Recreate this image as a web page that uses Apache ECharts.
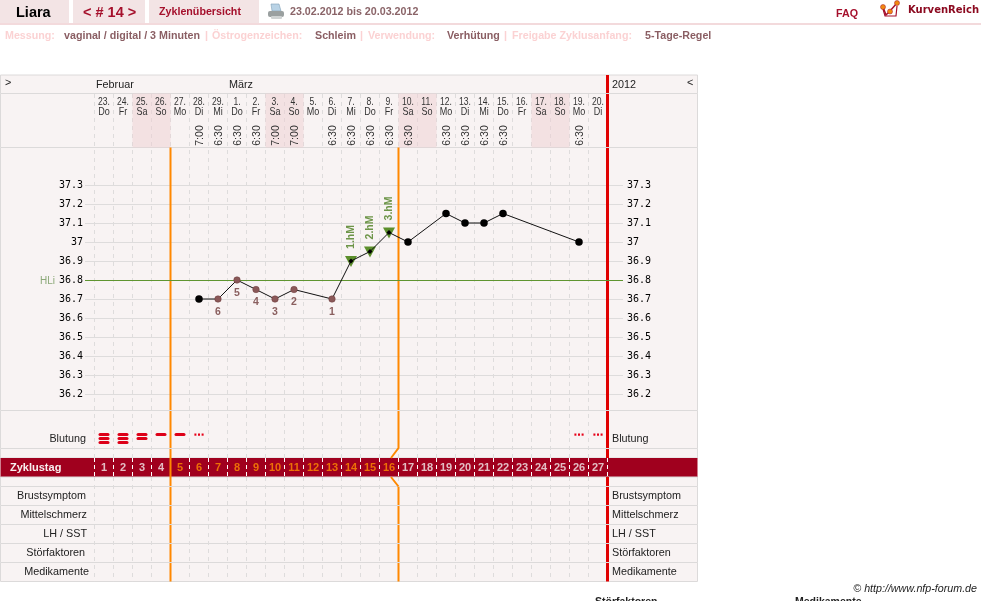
<!DOCTYPE html>
<html><head><meta charset="utf-8">
<style>html,body{margin:0;padding:0;background:#fff}#c{width:981px;height:601px}</style>
<script src="https://cdn.jsdelivr.net/npm/echarts@6/dist/echarts.min.js"></script>
</head><body><div id="c"></div>
<script>
// ---- data ----
const dayNumbers = ['23.','24.','25.','26.','27.','28.','29.','1.','2.','3.','4.','5.','6.','7.','8.','9.','10.','11.','12.','13.','14.','15.','16.','17.','18.','19.','20.'];
const weekDays = ['Do','Fr','Sa','So','Mo','Di','Mi','Do','Fr','Sa','So','Mo','Di','Mi','Do','Fr','Sa','So','Mo','Di','Mi','Do','Fr','Sa','So','Mo','Di'];
const wakeTimes = ['','','','','','7:00','6:30','6:30','6:30','7:00','7:00','','6:30','6:30','6:30','6:30','6:30','','6:30','6:30','6:30','6:30','','','','6:30',''];
const weekendShade = [0,0,1,1,0,0,0,0,0,1,1,0,0,0,0,0,1,1,0,0,0,0,0,1,1,0,0];
const cycleDays = [1,2,3,4,5,6,7,8,9,10,11,12,13,14,15,16,17,18,19,20,21,22,23,24,25,26,27];
const fertileFlag = [0,0,0,0,1,1,1,1,1,1,1,1,1,1,1,1,0,0,0,0,0,0,0,0,0,0,0];
const temperatures = [null,null,null,null,null,36.7,36.7,36.8,36.75,36.7,36.75,null,36.7,36.9,36.95,37.05,37.0,null,37.15,37.1,37.1,37.15,null,null,null,37.0,null];
const lowLabels = ['','','','','','','6','5','4','3','2','','1','','','','','','','','','','','','','',''];
const riseLabels = ['','','','','','','','','','','','','','1.hM','2.hM','3.hM','','','','','','','','','','',''];
const bleeding = [3,3,2,1,1,0.5,0,0,0,0,0,0,0,0,0,0,0,0,0,0,0,0,0,0,0,0.5,0.5];
const coverLine = 36.8;
const leftRowLabels = ['Blutung','Brustsymptom','Mittelschmerz','LH / SST','Störfaktoren','Medikamente'];
const rightRowLabels = ['Blutung','Brustsymptom','Mittelschmerz','LH / SST','Störfaktoren','Medikamente'];

// ---- layout ----
const rowEdges = [75,93.5,147.5,410.5,448.5,458,477,486.5,505.5,524.5,543.5,562.5,581.5];
const BAND = 5; const PL = 0.5, PW = 697, CL = 94.5, CW = 513;
const grids=[], xAxes=[], yAxes=[], series=[];
function addGrid(g,x,y){ grids.push(g); const i=grids.length-1;
  xAxes.push(Object.assign({gridIndex:i,show:false},x||{}));
  yAxes.push(Object.assign({gridIndex:i,show:false},y||{})); return i; }
const hiddenX={type:'value',min:0,max:1,axisLine:{show:false},axisTick:{show:false},axisLabel:{show:false},splitLine:{show:false}};
for(let i=0;i<rowEdges.length-1;i++){
  const band=i===BAND;
  addGrid({left:PL,width:PW,top:rowEdges[i],height:rowEdges[i+1]-rowEdges[i],show:true,z:0,
    backgroundColor:band?'#a0001e':'#f8f3f3',borderColor:'#dcdada',borderWidth:band?0:1},hiddenX,{type:'value',min:0,max:1,splitLine:{show:false}});
}
const catX=(color,dash)=>({show:true,type:'category',data:cycleDays,boundaryGap:true,axisLine:{show:false},axisTick:{show:false},axisLabel:{show:false},
  splitLine:{show:true,interval:0,lineStyle:{color:color,width:1,type:dash}}});
const hideY={type:'value',min:0,max:1,axisLine:{show:false},axisTick:{show:false},axisLabel:{show:false},splitLine:{show:false}};
// day header (weekend shading + captions)
const gHead=addGrid({left:CL,width:CW,top:93.5,height:54},{type:'category',data:cycleDays,boundaryGap:true,show:false},hideY);
// dashed column lines
addGrid({left:CL,width:CW,top:94,height:364},catX('#dedcdc',[4,4]),hideY);
addGrid({left:CL,width:CW,top:477,height:104.5},catX('#dedcdc',[4,4]),hideY);
const gBand=addGrid({left:CL,width:CW,top:458,height:19},catX('#ffffff',[4,3]),hideY);
// temperature axes, wide grid carries the rules and the tick labels
const gT=addGrid({left:85,width:538,top:185,height:209},hiddenX,
  {show:true,type:'value',min:36.2,max:37.3,interval:0.1,position:'left',axisLine:{show:false},axisTick:{show:false},
   axisLabel:{margin:2,color:'#000',fontFamily:'DejaVu Sans Mono',fontSize:10},splitLine:{show:true,lineStyle:{color:'#dedcdc',width:1}}});
const yT=gT;
yAxes.push({gridIndex:gT,show:true,type:'value',min:36.2,max:37.3,interval:0.1,position:'right',axisLine:{show:false},axisTick:{show:false},
   axisLabel:{margin:4,color:'#000',fontFamily:'DejaVu Sans Mono',fontSize:10},splitLine:{show:false}});
const gD=addGrid({left:CL,width:CW,top:185,height:209},{type:'category',data:cycleDays,boundaryGap:true,show:false},
  {type:'value',min:36.2,max:37.3,interval:0.1,show:false,splitLine:{show:false}});
// overlay scale: x in cycle columns, y in page rows
const gO=addGrid({left:CL,width:CW,top:75,height:507},{type:'value',min:0,max:27,show:false,splitLine:{show:false}},
  {type:'value',min:75,max:582,inverse:true,show:false,splitLine:{show:false}});
const yIdx=i=>(i<=gT?i:i+1); // the temperature grid owns two y axes

// weekend shading
series.push({type:'bar',xAxisIndex:gHead,yAxisIndex:yIdx(gHead),data:weekendShade,barWidth:'100%',silent:true,z:1,
  itemStyle:{color:'rgba(238,210,212,0.55)'}});
// day captions
series.push({type:'custom',xAxisIndex:gHead,yAxisIndex:yIdx(gHead),silent:true,z:3,clip:false,
  data:dayNumbers.map((d,i)=>[i,0]),encode:{x:0,y:1},
  renderItem(p,api){const i=api.value(0);const x=api.coord([i,0])[0];const top=api.coord([i,1])[1];
    const f='11px "Liberation Sans"';
    const ch=[
     {type:'text',x:x,y:top+8,scaleX:0.78,style:{text:dayNumbers[i],fill:'#333',font:f,textAlign:'center',textVerticalAlign:'middle'}},
     {type:'text',x:x,y:top+18.5,scaleX:0.82,style:{text:weekDays[i],fill:'#333',font:f,textAlign:'center',textVerticalAlign:'middle'}}];
    if(wakeTimes[i])ch.push({type:'text',x:x+0.8,y:top+42,rotation:Math.PI/2,style:{text:wakeTimes[i],fill:'#333',font:'10.5px "Liberation Sans"',textAlign:'center',textVerticalAlign:'middle'}});
    return {type:'group',children:ch};}});
// cycle day numbers
series.push({type:'scatter',xAxisIndex:gBand,yAxisIndex:yIdx(gBand),symbolSize:1,silent:true,z:6,itemStyle:{color:'transparent'},
  data:cycleDays.map((d,i)=>({value:[i,0.5],label:{show:true,position:'inside',formatter:String(d),fontFamily:'Liberation Sans',fontWeight:'bold',fontSize:11,color:fertileFlag[i]?'#ff8c00':'#f4ecec'}}))});
// cover line
series.push({type:'line',xAxisIndex:gT,yAxisIndex:yT,data:[],silent:true,z:2,
  markLine:{silent:true,symbol:'none',animation:false,label:{show:false},lineStyle:{color:'#5f9530',width:1,type:'solid'},data:[{yAxis:coverLine}]}});
// triangles and captions of the rise points
series.push({type:'custom',xAxisIndex:gD,yAxisIndex:yIdx(gD),silent:true,z:5,clip:false,
  data:temperatures.map((t,i)=>riseLabels[i]?[i,t]:null).filter(Boolean),encode:{x:0,y:1},
  renderItem(p,api){const i=api.value(0);const c=api.coord([i,api.value(1)]);
    return {type:'group',children:[
      {type:'polygon',shape:{points:[[c[0]-6,c[1]-5],[c[0]+6,c[1]-5],[c[0],c[1]+6]]},style:{fill:'#5c8f2c'}},
      {type:'text',x:c[0],y:c[1]-24,rotation:Math.PI/2,style:{text:riseLabels[i],fill:'#6d9548',font:'bold 10.5px "Liberation Sans"',textAlign:'center',textVerticalAlign:'middle'}}]};}});
// temperature curve
series.push({type:'line',xAxisIndex:gD,yAxisIndex:yIdx(gD),silent:true,z:7,connectNulls:true,showSymbol:true,showAllSymbol:true,clip:false,
  lineStyle:{color:'#111',width:1},
  data:temperatures.map((t,i)=>{
    const o={value:t,symbol:'circle',symbolSize:7.5,itemStyle:{color:'#000'}};
    if(riseLabels[i]){o.symbol='diamond';o.symbolSize=5;}
    else if(lowLabels[i]){o.symbolSize=6.5;o.itemStyle={color:'#8a5858',borderColor:'#6a3a3a',borderWidth:0.5};
      o.label={show:true,position:'bottom',distance:4,formatter:lowLabels[i],fontFamily:'Liberation Sans',fontWeight:'bold',fontSize:10.5,color:'#8a5f5f'};}
    return o;})});
// bleeding marks
series.push({type:'custom',xAxisIndex:gO,yAxisIndex:yIdx(gO),silent:true,z:6,clip:false,
  data:bleeding.map((b,i)=>[i+0.5,434,b]),encode:{x:0,y:1},
  renderItem(p,api){const c=api.coord([api.value(0),api.value(1)]);const b=api.value(2);const ch=[];
    if(b>=1)for(let k=0;k<b;k++)ch.push({type:'rect',shape:{x:c[0]-5.5,y:c[1]-1+k*4,width:11,height:3,r:1.5},style:{fill:'#dd0018'}});
    else if(b>0)for(let k=-1;k<=1;k++)ch.push({type:'rect',shape:{x:c[0]-1+k*3.6,y:c[1]-0.5,width:2,height:2.2},style:{fill:'#e60018'}});
    return {type:'group',children:ch};}});
// phase lines, interrupted at the row rules
function vertical(x,from,to,skip){const out=[];let y=from;
  for(const e of rowEdges){ if(e<=from||e>=to)continue; if(skip&&skip.indexOf(e)>=0)continue;
    out.push([x,y],[x,e-0.5],['-','-']); y=e+0.5; }
  out.push([x,y],[x,to]); return out;}
const lineSeries=(data,color,width,z)=>({type:'line',xAxisIndex:gO,yAxisIndex:yIdx(gO),silent:true,z:z,symbol:'none',clip:false,connectNulls:false,lineStyle:{color:color,width:width,cap:'butt'},data:data});
const redData=vertical(27,75,458,[]).concat([['-','-']],vertical(27,477,581.5,[]));
const orange1=vertical(4,147.5,581.5,[458,477]);
const xk=16, xk2=16-7.5/19;
const orange2=vertical(xk,147.5,448,[]).concat([[xk,448],[xk2,458],['-','-'],[xk2,477],[xk,486.5],['-','-']],vertical(xk,487,581.5,[]));
series.push(lineSeries(redData,'#e00000',3,4));
series.push(lineSeries(orange1,'#ff8800',2,4));
series.push(lineSeries(orange2,'#ff8800',2,4));

// ---- page furniture ----
function T(x,y,text,font,fill,align){return {type:'text',z:20,silent:true,style:{x:x,y:y,text:text,font:font,fill:fill,textAlign:align||'left',textVerticalAlign:'middle'}};}
const B='bold 10.7px "Liberation Sans"', N='10.8px "Liberation Sans"';
const PINK='#fbd2d3', VAL='#8a5e63';
function R(x,y,w,h,fill,r){return {type:'rect',z:15,silent:true,shape:{x:x,y:y,width:w,height:h,r:r||0},style:{fill:fill}};}
const g=[
 R(0,0,69,23,'#f3e4e5'),R(73,0,72,23,'#f3e4e5'),R(149,0,110,23,'#f3e4e5'),R(0,23,981,2,'#f3dadc'),
 T(16,13,'Liara','bold 14.5px "Liberation Sans"','#000'),
 T(83,13,'< # 14 >','bold 14.5px "Liberation Sans"','#a5102c'),
 T(159,12.5,'Zyklenübersicht',B,'#a5102c'),
 T(290,12.5,'23.02.2012 bis 20.03.2012',B,'#8a6468'),
 T(836,14.5,'FAQ',B,'#a5102c'),
 T(908,10,'KurvenReich','bold 10px "DejaVu Sans"','#8c0a20'),
 // printer icon
 {type:'polygon',z:15,silent:true,shape:{points:[[271,4],[279,4],[281,11],[272,11]]},style:{fill:'#b9d3e6',stroke:'#7f9fb5',lineWidth:0.6}},
 R(268,11,16,6,'#9aa0a0',2),R(271,16,11,3,'#cfd3d3',1),
 // logo
 {type:'polyline',z:15,silent:true,shape:{points:[[883,7],[886,15],[890,11],[897,3]]},style:{stroke:'#a5102c',lineWidth:1.5,fill:'none'}},
 {type:'polyline',z:15,silent:true,shape:{points:[[883,9],[885,16],[896,16],[897,6]]},style:{stroke:'#a5102c',lineWidth:1.2,fill:'none'}},
 {type:'circle',z:16,silent:true,shape:{cx:883,cy:7,r:2.5},style:{fill:'#f08a10',stroke:'#a5102c',lineWidth:0.5}},
 {type:'circle',z:16,silent:true,shape:{cx:890,cy:11.5,r:2.5},style:{fill:'#f08a10',stroke:'#a5102c',lineWidth:0.5}},
 {type:'circle',z:16,silent:true,shape:{cx:897,cy:3,r:2.5},style:{fill:'#f08a10',stroke:'#a5102c',lineWidth:0.5}},
 T(5,36,'Messung:',B,PINK),T(64,36,'vaginal / digital / 3 Minuten',B,VAL),T(205,36,'|',B,PINK),
 T(212,36,'Östrogenzeichen:',B,PINK),T(315,36,'Schleim',B,VAL),T(360,36,'|',B,PINK),
 T(368,36,'Verwendung:',B,PINK),T(447,36,'Verhütung',B,VAL),T(504,36,'|',B,PINK),
 T(512,36,'Freigabe Zyklusanfang:',B,PINK),T(645,36,'5-Tage-Regel',B,VAL),
 T(5,83,'>',N,'#222'),T(96,85,'Februar',N,'#222'),T(229,85,'März',N,'#222'),T(612,85,'2012',N,'#222'),T(687,83,'<',N,'#222'),
 T(40,281,'HLi','10px "Liberation Sans"','#8ba878'),
 T(10,468,'Zyklustag','bold 11px "Liberation Sans"','#f8efef'),
 T(977,589,'© http://www.nfp-forum.de','italic 10.7px "Liberation Sans"','#222','right'),
 T(595,602,'Störfaktoren','bold 10.5px "Liberation Sans"','#222'),
 T(795,602,'Medikamente','bold 10.5px "Liberation Sans"','#222')
];
const rowY=[439,496,515,534,553,572], rowRight=[86,86,87,87,85,89];
leftRowLabels.forEach((s,i)=>g.push(T(rowRight[i],rowY[i],s,N,'#222','right')));
rightRowLabels.forEach((s,i)=>g.push(T(612,rowY[i],s,N,'#222')));

const chart=echarts.init(document.getElementById('c'),null,{renderer:'canvas'});
chart.setOption({animation:false,tooltip:{show:false},legend:{show:false},grid:grids,xAxis:xAxes,yAxis:yAxes,series:series,graphic:{elements:g}});
</script></body></html>
